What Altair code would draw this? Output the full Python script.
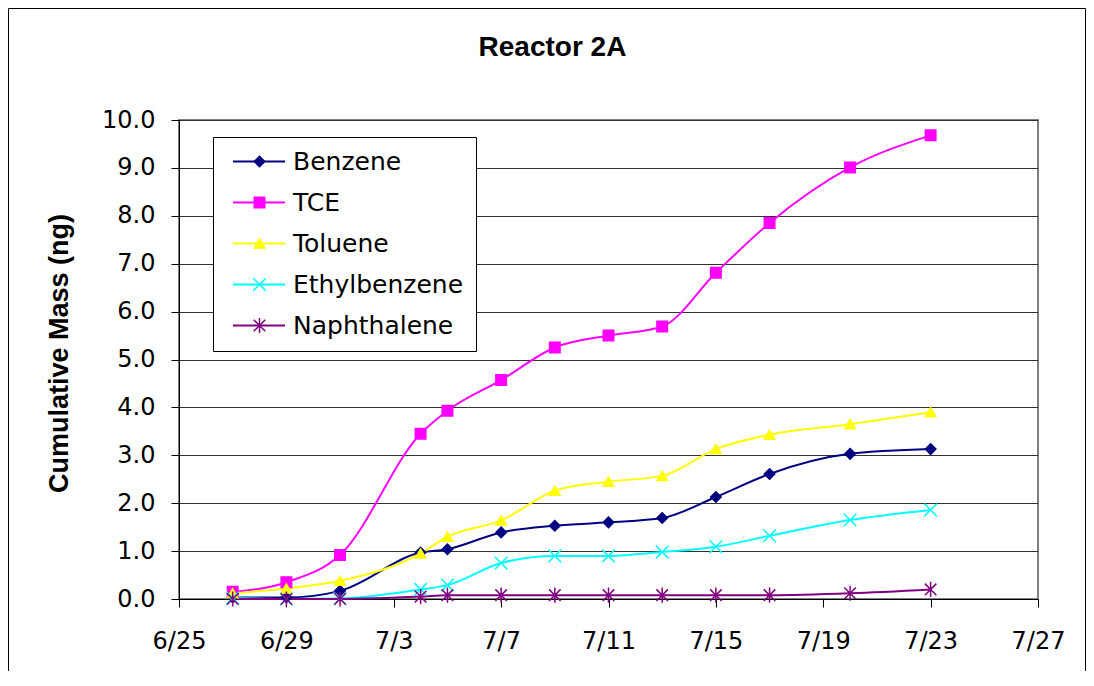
import altair as alt
import pandas as pd

names = ["Benzene", "TCE", "Toluene", "Ethylbenzene", "Naphthalene"]
colors = ["#000080", "#FF00FF", "#FFFF00", "#00FFFF", "#800080"]
fills = ["#000080", "#FF00FF", "#FFFF00", "transparent", "transparent"]
shapes = [
    "diamond",
    "square",
    "triangle-up",
    "M-1.2,-1.2L1.2,1.2M-1.2,1.2L1.2,-1.2",
    "M-1.1,-1.1L1.1,1.1M-1.1,1.1L1.1,-1.1M0,-1.45L0,1.45",
]

dates = ["2004-06-27", "2004-06-29", "2004-07-01", "2004-07-04", "2004-07-05",
         "2004-07-07", "2004-07-09", "2004-07-11", "2004-07-13", "2004-07-15",
         "2004-07-17", "2004-07-20", "2004-07-23"]

benzene = [0.03, 0.03, 0.17, 0.97, 1.04, 1.39, 1.53, 1.60, 1.69, 2.13, 2.61, 3.03, 3.13]
tce = [0.15, 0.35, 0.92, 3.45, 3.93, 4.57, 5.25, 5.50, 5.69, 6.81, 7.85, 9.01, 9.68]
toluene = [0.12, 0.22, 0.38, 0.95, 1.30, 1.64, 2.26, 2.45, 2.57, 3.13, 3.43, 3.65, 3.90]
ethylbenzene = [0.02, 0.00, 0.01, 0.20, 0.29, 0.75, 0.90, 0.90, 0.98, 1.09, 1.32, 1.65, 1.86]
naphthalene = [0.00, 0.00, 0.00, 0.05, 0.08, 0.08, 0.08, 0.08, 0.08, 0.08, 0.08, 0.12, 0.20]

series_values = [benzene, tce, toluene, ethylbenzene, naphthalene]

tick_days = [(6, 25), (6, 29), (7, 3), (7, 7), (7, 11), (7, 15), (7, 19), (7, 23), (7, 27)]
y_ticks = [0, 1, 2, 3, 4, 5, 6, 7, 8, 9, 10]

rows = []
for n, vals in zip(names, series_values):
    for d, v in zip(dates, vals):
        rows.append({"date": d, "series": n, "series2": n, "mass": v})
df = pd.DataFrame(rows)

tick_values = [alt.DateTime(year=2004, month=m, date=d, utc=True) for m, d in tick_days]

x_enc = alt.X(
    "date:T",
    scale=alt.Scale(type="utc", domain=[tick_values[0], tick_values[-1]]),
    axis=alt.Axis(
        values=tick_values,
        labelExpr="utcFormat(datum.value, '%-m/%-d')",
        title=None,
        grid=False,
        tickSize=8,
        labelPadding=22,
        labelFont="DejaVu Sans",
        labelFontSize=24,
        labelColor="black",
        domainColor="black",
        tickColor="black",
        labelFlush=False,
        labelOverlap=False,
    ),
)

y_enc = alt.Y(
    "mass:Q",
    scale=alt.Scale(domain=[0, 10], nice=False),
    axis=alt.Axis(
        values=y_ticks,
        format=".1f",
        title="Cumulative Mass (ng)",
        titleFont="Liberation Sans",
        titleFontSize=27,
        titleFontWeight="bold",
        titleColor="black",
        titleAngle=270,
        titleX=-112,
        titleY=233,
        titleAlign="center",
        titleBaseline="alphabetic",
        grid=True,
        gridColor="#333333",
        tickSize=8,
        labelPadding=16,
        labelFont="DejaVu Sans",
        labelFontSize=24,
        labelColor="black",
        domainColor="black",
        tickColor="black",
    ),
)

line_legend = alt.Legend(
    orient="none",
    legendX=34,
    legendY=17,
    direction="vertical",
    title=None,
    padding=12,
    symbolType="M-2.6,0H2.6",
    symbolSize=400,
    symbolStrokeWidth=2,
    symbolOffset=21.5,
    labelFont="DejaVu Sans",
    labelFontSize=25,
    labelColor="black",
    labelOffset=21.5,
    labelLimit=400,
    rowPadding=15,
    strokeColor="#000000",
    fillColor="white",
    zindex=1,
)

point_legend = alt.Legend(
    orient="none",
    legendX=56,
    legendY=17,
    direction="vertical",
    title=None,
    padding=12,
    symbolSize=110,
    symbolStrokeWidth=1.5,
    labelFont="DejaVu Sans",
    labelFontSize=25,
    labelExpr="''",
    labelLimit=400,
    rowPadding=15,
    zindex=2,
)

lines = alt.Chart(df).mark_line(interpolate="monotone", strokeWidth=2).encode(
    x=x_enc,
    y=y_enc,
    color=alt.Color("series2:N", scale=alt.Scale(domain=names, range=colors), legend=line_legend),
    detail="series:N",
)

points = alt.Chart(df).mark_point(filled=False, size=110, strokeWidth=1.5, opacity=1).encode(
    x=x_enc,
    y=y_enc,
    color=alt.Color("series:N", scale=alt.Scale(domain=names, range=colors), legend=point_legend),
    fill=alt.Fill("series:N", scale=alt.Scale(domain=names, range=fills), legend=point_legend),
    shape=alt.Shape("series:N", scale=alt.Scale(domain=names, range=shapes), legend=point_legend),
)

one = alt.Data(values=[{"k": 1}])
frame_left = alt.Chart(one).mark_rule(color="black", strokeWidth=1).encode(
    x=alt.value(-170.5), y=alt.value(-111.5), y2=alt.value(551))
frame_top = alt.Chart(one).mark_rule(color="black", strokeWidth=1).encode(
    x=alt.value(-170.5), x2=alt.value(906.5), y=alt.value(-111.5))
frame_right = alt.Chart(one).mark_rule(color="black", strokeWidth=1).encode(
    x=alt.value(906.5), y=alt.value(-111.5), y2=alt.value(551))

chart = alt.layer(lines, points, frame_left, frame_top, frame_right).resolve_scale(
    color="independent", fill="independent", shape="independent"
).properties(
    width=859,
    height=479,
    padding={"left": 171, "top": 112, "right": 48, "bottom": 79},
    autosize=alt.AutoSizeParams(type="none"),
    background="white",
    title=alt.TitleParams(
        text="Reactor 2A",
        font="Liberation Sans",
        fontSize=28,
        fontWeight="bold",
        color="black",
        anchor="middle",
        dx=-56,
        offset=-76,
        baseline="alphabetic",
    ),
).configure_view(stroke="#808080", strokeWidth=2)

chart.save("out.html", embed_options={"renderer": "svg", "actions": False})
